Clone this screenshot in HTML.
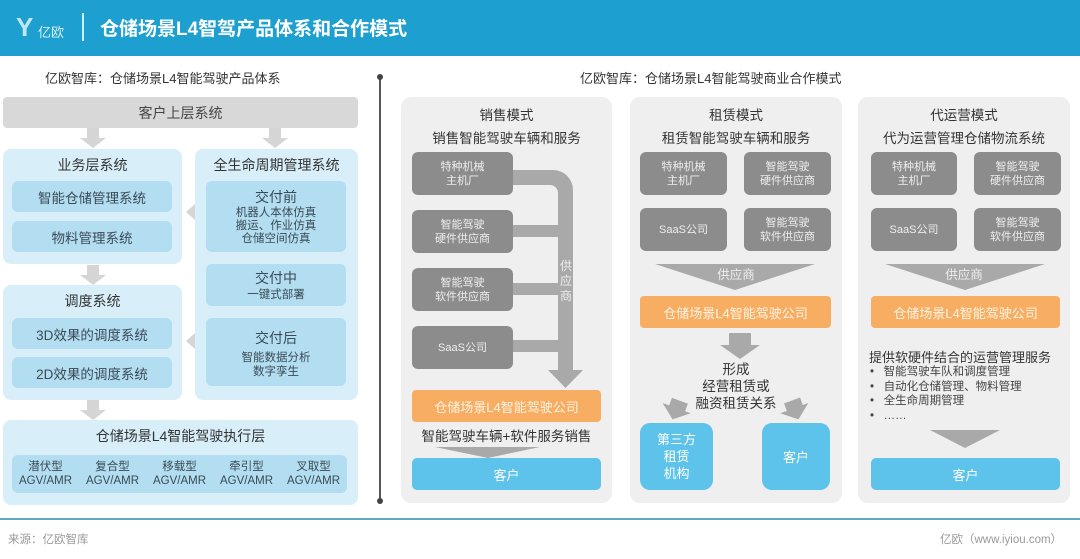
<!DOCTYPE html>
<html><head><meta charset="utf-8"><style>
*{margin:0;padding:0;box-sizing:border-box}
body{width:1080px;height:559px;background:#fff;position:relative;overflow:hidden;font-family:"Liberation Sans","Noto Sans CJK SC",sans-serif;color:#444}
.a{position:absolute}
.c{display:flex;align-items:center;justify-content:center;text-align:center;flex-direction:column}
.pl{background:#d8eff9;border-radius:8px}
.ib{background:#b3def1;border-radius:6px;color:#3a4a55}
.g{background:#8c8c8c;color:#eee;border-radius:6px;font-size:11px;line-height:14px}
.o{background:#f7ae62;color:#fff3e4;border-radius:4px;font-size:13px}
.b{background:#5ec3ea;color:#fff;border-radius:5px;font-size:13px}
.rp{background:#efefef;border-radius:10px}
.t{font-size:13px;color:#333}
</style></head><body>
<div class="a" style="left:0;top:0;width:1080px;height:56px;background:#1d9fd0"></div>
<div class="a" style="left:16px;top:12px;color:#bfe7f6;font-size:26px;font-weight:bold">Y</div>
<div class="a" style="left:38px;top:22px;color:#d9f1fb;font-size:13px">亿欧</div>
<div class="a" style="left:82px;top:13px;width:2px;height:28px;background:#cfeefa"></div>
<div class="a" style="left:100px;top:14px;color:#fff;font-size:19px;font-weight:bold">仓储场景L4智驾产品体系和合作模式</div>

<div class="a t" style="left:45px;top:68px;font-size:13px">亿欧智库：仓储场景L4智能驾驶产品体系</div>
<div class="a t" style="left:580px;top:68px;font-size:13px">亿欧智库：仓储场景L4智能驾驶商业合作模式</div>
<div class="a" style="left:379px;top:76px;width:2px;height:426px;background:#555"></div>
<div class="a" style="left:377px;top:74px;width:6px;height:6px;border-radius:3px;background:#444"></div>
<div class="a" style="left:377px;top:498px;width:6px;height:6px;border-radius:3px;background:#444"></div>

<!-- left -->
<div class="a c" style="left:3px;top:97px;width:355px;height:31px;background:#d8d8d8;border-radius:4px;font-size:14px;color:#444">客户上层系统</div>
<svg class="a" style="left:0;top:0" width="380" height="520">
<g fill="#d5d5d5">
<path d="M87 128h12v10h7l-13 10-13-10h7z"/>
<path d="M269 128h12v10h7l-13 10-13-10h7z"/>
<path d="M87 265h12v10h7l-13 10-13-10h7z"/>
<path d="M87 400h12v10h7l-13 10-13-10h7z"/>
<path d="M195 204v16l-9-8z"/><path d="M195 333v16l-9-8z"/>
</g></svg>
<div class="a pl" style="left:3px;top:149px;width:179px;height:115px"></div>
<div class="a t" style="left:3px;top:155px;width:179px;text-align:center;font-size:14px">业务层系统</div>
<div class="a c ib" style="left:12px;top:181px;width:160px;height:31px;font-size:13.5px">智能仓储管理系统</div>
<div class="a c ib" style="left:12px;top:221px;width:160px;height:31px;font-size:13.5px">物料管理系统</div>
<div class="a pl" style="left:3px;top:285px;width:179px;height:115px"></div>
<div class="a t" style="left:3px;top:291px;width:179px;text-align:center;font-size:14px">调度系统</div>
<div class="a c ib" style="left:12px;top:318px;width:160px;height:31px;font-size:13.5px">3D效果的调度系统</div>
<div class="a c ib" style="left:12px;top:357px;width:160px;height:31px;font-size:13.5px">2D效果的调度系统</div>
<div class="a pl" style="left:195px;top:149px;width:163px;height:251px"></div>
<div class="a t" style="left:195px;top:155px;width:163px;text-align:center;font-size:14px">全生命周期管理系统</div>
<div class="a c ib" style="left:206px;top:181px;width:140px;height:71px;font-size:11.5px;line-height:13px"><b style="font-size:14px;line-height:20px;font-weight:normal">交付前</b>机器人本体仿真<br>搬运、作业仿真<br>仓储空间仿真</div>
<div class="a c ib" style="left:206px;top:264px;width:140px;height:42px;font-size:11.5px;line-height:15px"><b style="font-size:14px;line-height:20px;font-weight:normal">交付中</b>一键式部署</div>
<div class="a c ib" style="left:206px;top:318px;width:140px;height:68px;font-size:11.5px;line-height:14px"><b style="font-size:14px;line-height:26px;font-weight:normal">交付后</b>智能数据分析<br>数字孪生</div>
<div class="a pl" style="left:3px;top:420px;width:355px;height:85px"></div>
<div class="a t" style="left:3px;top:426px;width:355px;text-align:center;font-size:14px">仓储场景L4智能驾驶执行层</div>
<div class="a ib" style="left:12px;top:455px;width:335px;height:38px;display:flex;justify-content:space-around;align-items:center;font-size:11.5px;line-height:14px;text-align:center">
<div>潜伏型<br>AGV/AMR</div><div>复合型<br>AGV/AMR</div><div>移载型<br>AGV/AMR</div><div>牵引型<br>AGV/AMR</div><div>叉取型<br>AGV/AMR</div></div>

<!-- panel 1 -->
<div class="a rp" style="left:401px;top:97px;width:211px;height:406px"></div>
<div class="a t" style="left:401px;top:104px;width:211px;text-align:center;font-size:13.5px">销售模式</div>
<div class="a t" style="left:401px;top:127px;width:211px;text-align:center;font-size:13.5px">销售智能驾驶车辆和服务</div>
<svg class="a" style="left:400px;top:90px" width="215" height="380">
<g fill="#a9a9a9">
<path d="M113 80h40a20 20 0 0 1 20 20v180h-15v-177a8 8 0 0 0-8-8h-37z"/>
<rect x="113" y="135" width="45" height="12"/><rect x="113" y="193" width="45" height="12"/><rect x="113" y="250" width="45" height="12"/>
<path d="M148 280h35l-17.5 18z"/>
</g>
<text x="166" y="180" font-size="12" fill="#eee" text-anchor="middle" font-family="Noto Sans CJK SC">供</text>
<text x="166" y="195" font-size="12" fill="#eee" text-anchor="middle" font-family="Noto Sans CJK SC">应</text>
<text x="166" y="210" font-size="12" fill="#eee" text-anchor="middle" font-family="Noto Sans CJK SC">商</text>
<path d="M35 357h105l-52 11z" fill="#a9a9a9"/>
</svg>
<div class="a c g" style="left:412px;top:152px;width:101px;height:43px">特种机械<br>主机厂</div>
<div class="a c g" style="left:412px;top:210px;width:101px;height:43px">智能驾驶<br>硬件供应商</div>
<div class="a c g" style="left:412px;top:268px;width:101px;height:43px">智能驾驶<br>软件供应商</div>
<div class="a c g" style="left:412px;top:326px;width:101px;height:43px">SaaS公司</div>
<div class="a c o" style="left:412px;top:390px;width:189px;height:32px">仓储场景L4智能驾驶公司</div>
<div class="a t" style="left:401px;top:425px;width:211px;text-align:center;font-size:13.5px">智能驾驶车辆+软件服务销售</div>
<div class="a c b" style="left:412px;top:458px;width:189px;height:32px">客户</div>

<!-- panel 2 -->
<div class="a rp" style="left:630px;top:97px;width:212px;height:406px"></div>
<div class="a t" style="left:630px;top:104px;width:212px;text-align:center;font-size:13.5px">租赁模式</div>
<div class="a t" style="left:630px;top:127px;width:212px;text-align:center;font-size:13.5px">租赁智能驾驶车辆和服务</div>
<div class="a c g" style="left:640px;top:152px;width:87px;height:43px">特种机械<br>主机厂</div>
<div class="a c g" style="left:744px;top:152px;width:87px;height:43px">智能驾驶<br>硬件供应商</div>
<div class="a c g" style="left:640px;top:208px;width:87px;height:43px">SaaS公司</div>
<div class="a c g" style="left:744px;top:208px;width:87px;height:43px">智能驾驶<br>软件供应商</div>
<svg class="a" style="left:630px;top:260px" width="212" height="170">
<g fill="#a9a9a9">
<path d="M25 4h160l-80 26z"/>
<path d="M99 73h22v12h9l-20 14-20-14h9z"/>
<path d="M38 140h17v8h6l-15 12-15-12h7z" transform="rotate(20 46 150)"/>
<path d="M157 140h17v8h6l-15 12-15-12h7z" transform="rotate(-20 165 150)"/>
</g></svg>
<div class="a" style="left:630px;top:264px;width:212px;text-align:center;font-size:12.5px;color:#eee">供应商</div>
<div class="a c o" style="left:640px;top:296px;width:191px;height:32px">仓储场景L4智能驾驶公司</div>
<div class="a t" style="left:630px;top:361px;width:212px;text-align:center;font-size:13.5px;line-height:17px">形成<br>经营租赁或<br>融资租赁关系</div>
<div class="a c b" style="left:640px;top:423px;width:73px;height:67px;line-height:17px;border-radius:10px">第三方<br>租赁<br>机构</div>
<div class="a c b" style="left:762px;top:423px;width:68px;height:67px;border-radius:10px">客户</div>

<!-- panel 3 -->
<div class="a rp" style="left:858px;top:97px;width:212px;height:406px"></div>
<div class="a t" style="left:858px;top:104px;width:212px;text-align:center;font-size:13.5px">代运营模式</div>
<div class="a t" style="left:858px;top:127px;width:212px;text-align:center;font-size:13.5px">代为运营管理仓储物流系统</div>
<div class="a c g" style="left:871px;top:152px;width:86px;height:43px">特种机械<br>主机厂</div>
<div class="a c g" style="left:974px;top:152px;width:87px;height:43px">智能驾驶<br>硬件供应商</div>
<div class="a c g" style="left:871px;top:208px;width:86px;height:43px">SaaS公司</div>
<div class="a c g" style="left:974px;top:208px;width:87px;height:43px">智能驾驶<br>软件供应商</div>
<svg class="a" style="left:858px;top:260px" width="212" height="200">
<g fill="#a9a9a9"><path d="M27 4h160l-80 26z"/><path d="M72 170h70l-35 18z"/></g></svg>
<div class="a" style="left:858px;top:264px;width:212px;text-align:center;font-size:12.5px;color:#eee">供应商</div>
<div class="a c o" style="left:871px;top:296px;width:189px;height:32px">仓储场景L4智能驾驶公司</div>
<div class="a t" style="left:869px;top:347px;font-size:13px">提供软硬件结合的运营管理服务</div>
<div class="a" style="left:870px;top:365px;font-size:11.5px;line-height:14.5px;color:#444">•&nbsp;&nbsp;&nbsp;智能驾驶车队和调度管理<br>•&nbsp;&nbsp;&nbsp;自动化仓储管理、物料管理<br>•&nbsp;&nbsp;&nbsp;全生命周期管理<br>•&nbsp;&nbsp;&nbsp;……</div>
<div class="a c b" style="left:871px;top:458px;width:189px;height:32px">客户</div>

<div class="a" style="left:0;top:518px;width:1080px;height:2px;background:#5fa9c4"></div>
<div class="a" style="left:8px;top:531px;font-size:11.5px;color:#999">来源：亿欧智库</div>
<div class="a" style="left:940px;top:531px;font-size:11.5px;color:#999">亿欧（www.iyiou.com）</div>
</body></html>
